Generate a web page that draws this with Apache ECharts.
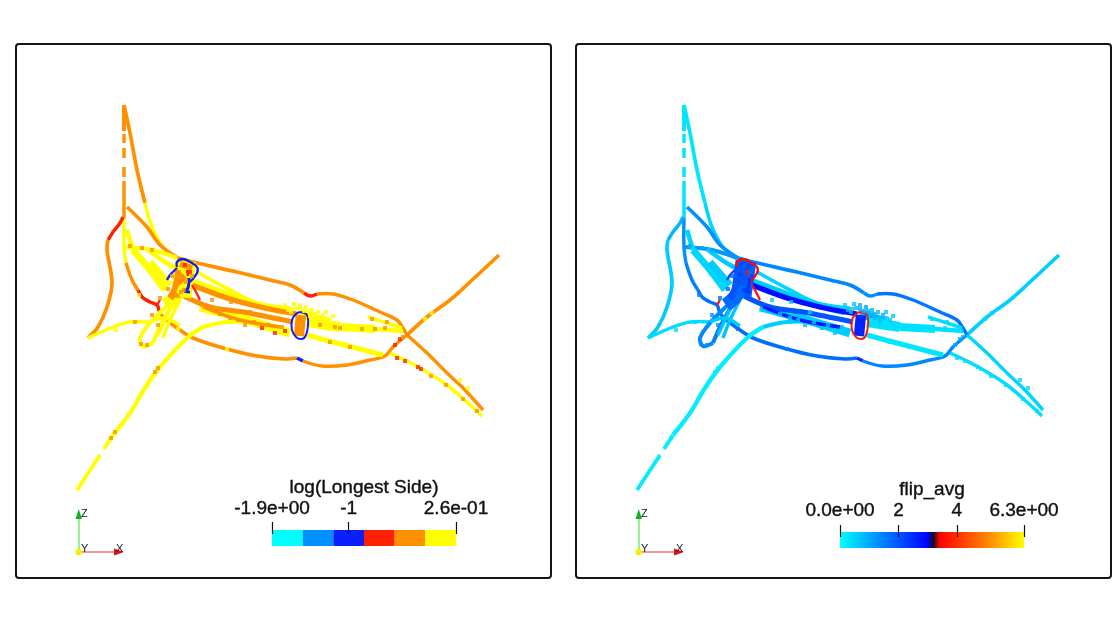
<!DOCTYPE html>
<html><head><meta charset="utf-8">
<style>html,body{margin:0;padding:0;background:#fff}#c{width:1120px;height:632px}</style>
<script src="https://cdn.jsdelivr.net/npm/echarts@6/dist/echarts.min.js"></script>
</head><body><div id="c"></div>
<script>
// ---- colour bars
const logTicks=[-1.9,-1,0.26];
const logTickLabels=['-1.9e+00','-1','2.6e-01'];
const logBins=[[-1.9,-1.54,'#00ffff'],[-1.54,-1.18,'#0090ff'],[-1.18,-0.82,'#0a1eff'],[-0.82,-0.46,'#ff2000'],[-0.46,-0.1,'#ff9000'],[-0.1,0.26,'#ffff00']];
const flipTicks=[0,2,4,6.3];
const flipTickLabels=['0.0e+00','2','4','6.3e+00'];
const flipStops=[[0,'#00ffff'],[3,'#0000ff'],[3.2,'#101020'],[3.4,'#ff0000'],[5,'#ff8000'],[6.3,'#ffff00']];
// ---- curves, in picture units
const spikeTop=[[124,105],[124,131]];
const spikeDash1=[[124,134],[124,143]];
const spikeDash2=[[124,148],[124,158]];
const spikeDash3=[[124,167],[124,177]];
const spikeLow=[[124,181],[124,208],[124,218]];
const spikeRight=[[124,105],[130,133],[137,170],[145,203]];
const spikeRightLow=[[145,203],[152,227],[163,247],[178,258]];
const innerDrop=[[124,218],[124,247],[126,263]];
const innerDropLow=[[126,263],[132,280],[138,290]];
const lowerRed=[[138,290],[142,297],[150,302],[157,305],[159,311]];
const lowerBody=[[159,311],[163,317],[177,328],[193,338],[227,349],[257,356],[285,359],[297,358]];
const lowerKink=[[297,358],[303,361]];
const lowerBody2=[[303,361],[322,366],[347,365],[370,360],[385,356],[393,347],[407,335]];
const upperWing=[[407,335],[427,317],[450,300],[470,282],[499,255]];
const upperBody=[[178,258],[193,262],[237,272],[270,280],[290,285],[304,293]];
const upperKink=[[304,293],[310,296],[317,294]];
const upperBody2=[[317,294],[333,294],[353,300],[380,312],[397,320],[403,328],[407,335]];
const tailOrange=[[407,335],[427,353],[447,373],[463,388],[483,410]];
const tailYellow=[[390,353],[407,361],[427,372],[447,385],[467,402],[482,416]];
const wingRed=[[123,217],[120,223],[113,232],[108,240]];
const wingLeft=[[108,240],[107,250],[112,283],[107,307],[98,327],[88,338]];
const wingLower=[[88,338],[113,327],[130,322],[150,322]];
const innerArc=[[127,207],[147,227],[160,245],[178,258]];
const crossBar=[[125,247],[147,249],[163,253],[177,258]];
const fanA=[[133,250],[150,270],[165,290]];
const fanB=[[127,230],[133,250]];
const fanD=[[147,249],[165,262],[180,270]];
const fanF=[[150,262],[170,285]];
const longLeg1=[[77,490],[100,455]];
const longLeg2=[[104,449],[113,435]];
const longLeg3=[[113,435],[130,413],[145,388],[160,367],[187,338],[203,327]];
const longLeg4=[[203,327],[227,322],[257,323],[283,332]];
const loopOut=[[170,303],[150,323],[140,338],[143,346],[153,343]];
const loopBack=[[153,343],[160,327],[172,305]];
const loopStrandA=[[172,305],[165,320],[158,335]];
const loopStrandB=[[180,300],[170,320],[163,338]];
const loopCross=[[150,322],[165,318],[180,326]];
const bandThin=[[197,272],[230,290],[257,303],[290,308]];
const bandDeep=[[192,285],[227,298],[260,307],[297,314]];
const bandMid=[[182,295],[210,307],[243,312],[293,322]];
const bandWide=[[200,307],[237,317],[270,327],[290,333]];
const bandLow=[[203,307],[240,320],[280,327]];
const bandFringe=[[188,280],[220,292],[250,303],[285,312]];
const afterUpperA=[[307,322],[340,327]];
const afterUpperB=[[340,327],[375,329]];
const afterUpperC=[[375,329],[403,331]];
const afterLower=[[307,335],[337,343],[383,355]];
const afterShort=[[368,317],[387,323],[402,328]];
const cloudBand=[[300,313],[325,322]];
const blobBlock=[[186,261],[181,297]];
const blobMain=[[181,285],[176,296],[166,305]];
const blobInner=[[178,270],[176,285],[170,298]];
const blobOrangeA=[[180,264],[192,268]];
const blobOrangeB=[[175,285],[185,276]];
const blobOrangeC=[[170,298],[176,292]];
const ringOuter=[[300,312],[307,315],[308,325],[306,335],[302,339],[296,337],[292,330],[292,320],[296,314],[300,312]];
const ringFill=[[301,315],[300,325],[299,336]];
const edgeA=[[177,267],[177,262],[183,259],[190,262],[197,267],[197,273],[190,282]];
const edgeB=[[177,268],[170,275],[167,280]];
const edgeC=[[189,278],[188,288],[185,291],[190,292]];
const edgeD=[[160,300],[157,305]];
const rightRedA=[[192,285],[196,292],[200,300]];
const rightRedB=[[187,270],[188,276]];
// path, log value, flip value, width
const stretches=[
 [spikeTop,-.3,.3,3.4],[spikeDash1,-.3,.3,3],[spikeDash2,-.3,.3,3],[spikeDash3,-.3,.3,3],[spikeLow,-.3,.35,3],
 [spikeRight,-.3,.3,3.2],[spikeRightLow,.05,.5,3],
 [innerDrop,.05,1.3,3],[innerDropLow,-.3,1.5,3],[lowerRed,-.65,1.7,3],[lowerBody,-.3,1.7,3.2],[lowerKink,-1,2.4,3],[lowerBody2,-.3,1.4,3],
 [upperWing,-.3,.55,3.2],[upperBody,-.3,1.4,3.2],[upperKink,-.65,1.3,3],[upperBody2,-.3,1.6,3],
 [tailOrange,-.3,.5,3],[tailYellow,.05,.4,3],[wingRed,-.65,.9,3],[wingLeft,-.3,.6,3.2],[wingLower,.05,.4,3],
 [innerArc,-.3,1.3,3.2],[crossBar,.05,1.2,3.5],[fanA,.05,.5,6],[fanB,.05,.5,4],[fanD,.05,.6,4],[fanF,.05,.6,6],
 [longLeg1,.05,.2,3.4],[longLeg2,.05,.2,3.4],[longLeg3,.05,.2,3.8],[longLeg4,.05,.6,3.5],
 [loopOut,.05,1.4,3.5],[loopBack,.05,1.5,3.5],[loopStrandA,.05,.7,3],[loopStrandB,.05,.7,3],[loopCross,.05,.6,3],
 [bandFringe,.05,.6,6],[bandThin,.05,.5,3.2],[bandWide,.05,.6,7.5],[bandMid,-.3,2,4.5],[bandDeep,-.3,2.85,4.5],[bandLow,-.3,2.7,3],
 [cloudBand,.05,.8,8],[afterUpperA,.05,.35,9],[afterUpperB,.05,.35,7],[afterUpperC,.05,.35,4],[afterLower,.05,.3,4.5],[afterShort,.05,.4,3],
 [blobBlock,.05,1.95,18],[blobMain,.05,1.75,12],[blobInner,-.3,2.0,5],[blobOrangeA,-.3,2.1,5],[blobOrangeB,-.3,2,6],[blobOrangeC,-.3,2,6],
 [ringFill,-.3,2.6,9],[ringOuter,-1,3.7,1.7],
 [edgeA,-1,3.5,2],[edgeB,-1,2.2,2],[edgeC,-1,2.4,2.6],[edgeD,-.65,3.6,2],[rightRedA,-.65,3.6,2],[rightRedB,-.65,3.6,2]
];
// flecks: x, y, log value, flip value
const flecks=[
 [300,305,.05,.9],[296,308,.05,.8],[306,307,.05,1.1],[312,310,.05,.9],[318,312,.05,.8],[288,310,.05,.7],[323,315,.05,.9],[327,318,.05,.6],[315,318,.05,.8],[310,316,.05,1],[304,311,.05,.8],[285,305,.05,.6],[320,321,.05,.8],[330,320,.05,.7],[294,304,.05,.7],[292,309,.05,.8],[300,309,.05,1],[308,311,.05,.9],[314,314,.05,.9],[326,312,.05,.7],[333,316,.05,.6],[291,312,.05,.7],
 [130,246,-.3,.9],[142,248,-.3,1.1],[152,250,-.3,1.1],[139,295,.05,1.4],[168,289,-.3,1.9],[160,298,-.3,1.7],[175,285,-.3,1.9],[181,292,-.3,1.8],[172,276,-.3,1.8],[186,282,-.3,1.9],[190,272,-.65,1.7],[185,265,-.65,1.8],[180,275,-.3,2.2],[192,276,-.3,2.2],[184,290,-.3,2.2],[178,296,-.3,1.7],
 [152,315,-.3,1.3],[158,325,-.3,1.3],[141,344,-.3,1.3],[147,345,-.3,1.3],[212,300,-.3,.6],[231,302,-.3,.6],[250,312,-.3,.6],[245,325,-.3,.8],[262,328,-.65,.7],[275,333,-.65,.6],[285,331,-.65,.7],[230,318,-.3,.7],[254,322,-.3,.7],[220,314,-.3,.7],[238,320,-.3,.7],[268,325,-.3,.7],[282,327,-.3,.7],
 [116,330,.05,.4],[135,322,-.3,.4],[155,372,-.3,.2],[158,368,-.3,.2],[115,432,-.3,.2],[111,438,-.3,.2],[178,329,.05,1.7],[227,349,.05,1.5],
 [320,325,-.3,.4],[335,327,-.3,.4],[340,328,-.3,.4],[362,329,-.3,.4],[375,329,-.3,.4],[385,328,-.3,.4],[372,319,-.3,.4],[387,322,-.3,.4],
 [330,342,-.3,.3],[350,347,-.3,.3],[400,339,-.65,.9],[395,345,-.65,.9],[403,337,-.3,.9],[397,358,-.65,.4],[405,361,-.65,.4],[418,367,-.65,.4],[421,369,-.65,.4],[431,376,-.3,.4],[446,385,-.3,.4],[463,399,-.3,.4],[477,411,-.3,.4],
 [432,313,.05,.5],[425,319,.05,.5],[460,380,.05,.5],[468,388,.05,.5]
];

const chart=echarts.init(document.getElementById('c'),null,{renderer:'canvas'});
const binColor=v=>{for(const b of logBins){if(v<b[1])return b[2];}return logBins[5][2];};
function hexMix(a,b,t){const p=s=>[1,3,5].map(i=>parseInt(s.substr(i,2),16));const A=p(a),B=p(b);
 return 'rgb('+A.map((c,i)=>Math.round(c+(B[i]-c)*t)).join(',')+')';}
function flipColor(v){for(let i=1;i<flipStops.length;i++){if(v<=flipStops[i][0]){const a=flipStops[i-1],b=flipStops[i];return hexMix(a[1],b[1],(v-a[0])/(b[0]-a[0]));}}return '#ffff00';}
const pathData=stretches.map((s,i)=>({value:[i,s[1],s[2],s[3]]}));
function pathSeries(g,colorFn,idx){return {type:'custom',xAxisIndex:g,yAxisIndex:g,clip:false,silent:true,z:3,animation:false,
 data:pathData,encode:{x:[],y:[]},
 renderItem:(p,api)=>{const s=stretches[api.value(0)];return {type:'polyline',shape:{points:s[0].map(q=>api.coord(q)),smooth:s[0].length>2?0.35:0},
  style:{stroke:colorFn(s[idx]),lineWidth:s[3]*1.15,fill:null,lineCap:'butt',lineJoin:'round'}};}};}
function fleckSeries(g,colorFn,idx){return {type:'scatter',xAxisIndex:g,yAxisIndex:g,symbol:'rect',symbolSize:4,silent:true,z:4,animation:false,
 data:flecks.map(f=>({value:[f[0],f[1]],itemStyle:{color:colorFn(f[idx])}}))};}
const hiddenPanel=g=>({gridIndex:g,show:false,min:16,max:551});
const hiddenPanelY=g=>({gridIndex:g,show:false,min:44,max:578,inverse:true});
function barAxis(g,min,max,ticks,labels,title,gap,margin){return {gridIndex:g,type:'value',position:'top',min,max,z:6,
 name:title,nameLocation:'middle',nameGap:gap,nameTextStyle:{fontFamily:'Liberation Sans',fontSize:19,color:'#111',textBorderColor:'#111',textBorderWidth:.4},
 axisLine:{show:false,onZero:false},splitLine:{show:false},
 axisTick:{show:true,length:12,customValues:ticks,lineStyle:{color:'#111',width:1.2}},
 axisLabel:{show:true,margin,customValues:ticks,fontFamily:'Liberation Sans',fontSize:19,color:'#111',textBorderColor:'#111',textBorderWidth:.4,hideOverlap:false,
  formatter:v=>labels[ticks.indexOf(+(+v).toFixed(2))]}};}
const triad=ox=>[
 {type:'line',shape:{x1:79+ox,y1:552,x2:79+ox,y2:518},style:{stroke:'#50e850',lineWidth:1.2}},
 {type:'line',shape:{x1:79+ox,y1:552,x2:116+ox,y2:552},style:{stroke:'#f03030',lineWidth:1.2}},
 {type:'polygon',shape:{points:[[75.5+ox,519],[82+ox,519],[78.7+ox,509]]},style:{fill:'#10b020'}},
 {type:'polygon',shape:{points:[[114+ox,548.5],[114+ox,555.5],[124+ox,552]]},style:{fill:'#d81010'}},
 {type:'circle',shape:{cx:78.7+ox,cy:552,r:3.2},style:{fill:'#f4f000'}},
 {type:'text',style:{x:81+ox,y:508,text:'Z',font:'11px Liberation Sans',fill:'#222'}},
 {type:'text',style:{x:81+ox,y:543,text:'Y',font:'11px Liberation Sans',fill:'#222'}},
 {type:'text',style:{x:116+ox,y:543,text:'X',font:'11px Liberation Sans',fill:'#222'}}
];
const frame=x=>({type:'rect',shape:{x,y:44,width:535,height:534,r:3},style:{fill:null,stroke:'#151515',lineWidth:2}});
const barRect=(api,lo,hi,top)=>{const a=api.coord([lo,top]),b=api.coord([hi,0]);return {x:a[0],y:a[1],width:b[0]-a[0],height:b[1]-a[1]};};
chart.setOption({
 animation:false,backgroundColor:'#fff',
 grid:[{left:16,top:44,width:535,height:534},{left:576,top:44,width:535,height:534},
       {left:272,top:534,width:184,height:12},{left:840,top:537,width:184,height:11}],
 xAxis:[hiddenPanel(0),hiddenPanel(1),
  barAxis(2,-1.9,.26,logTicks,logTickLabels,'log(Longest Side)',37,16),
  barAxis(3,0,6.3,flipTicks,flipTickLabels,'flip_avg',37,17)],
 yAxis:[hiddenPanelY(0),hiddenPanelY(1),{gridIndex:2,show:false,min:0,max:1},{gridIndex:3,show:false,min:0,max:1}],
 graphic:{elements:[frame(16),frame(576),...triad(0),...triad(560)]},
 series:[
  pathSeries(0,binColor,1),fleckSeries(0,binColor,2),
  pathSeries(1,flipColor,2),fleckSeries(1,flipColor,3),
  {type:'custom',xAxisIndex:2,yAxisIndex:2,silent:true,clip:false,z:2,data:logBins,encode:{x:[0,1]},
   renderItem:(p,api)=>({type:'rect',shape:barRect(api,api.value(0),api.value(1),16/12),style:{fill:logBins[p.dataIndex][2]}})},
  {type:'custom',xAxisIndex:3,yAxisIndex:3,silent:true,clip:false,z:2,data:[[0,6.3]],encode:{x:[0,1]},
   renderItem:(p,api)=>({type:'rect',shape:barRect(api,api.value(0),api.value(1),16/11),
     style:{fill:new echarts.graphic.LinearGradient(0,0,1,0,flipStops.map(s=>({offset:s[0]/6.3,color:s[1]})))}})}
 ]
});
</script></body></html>
